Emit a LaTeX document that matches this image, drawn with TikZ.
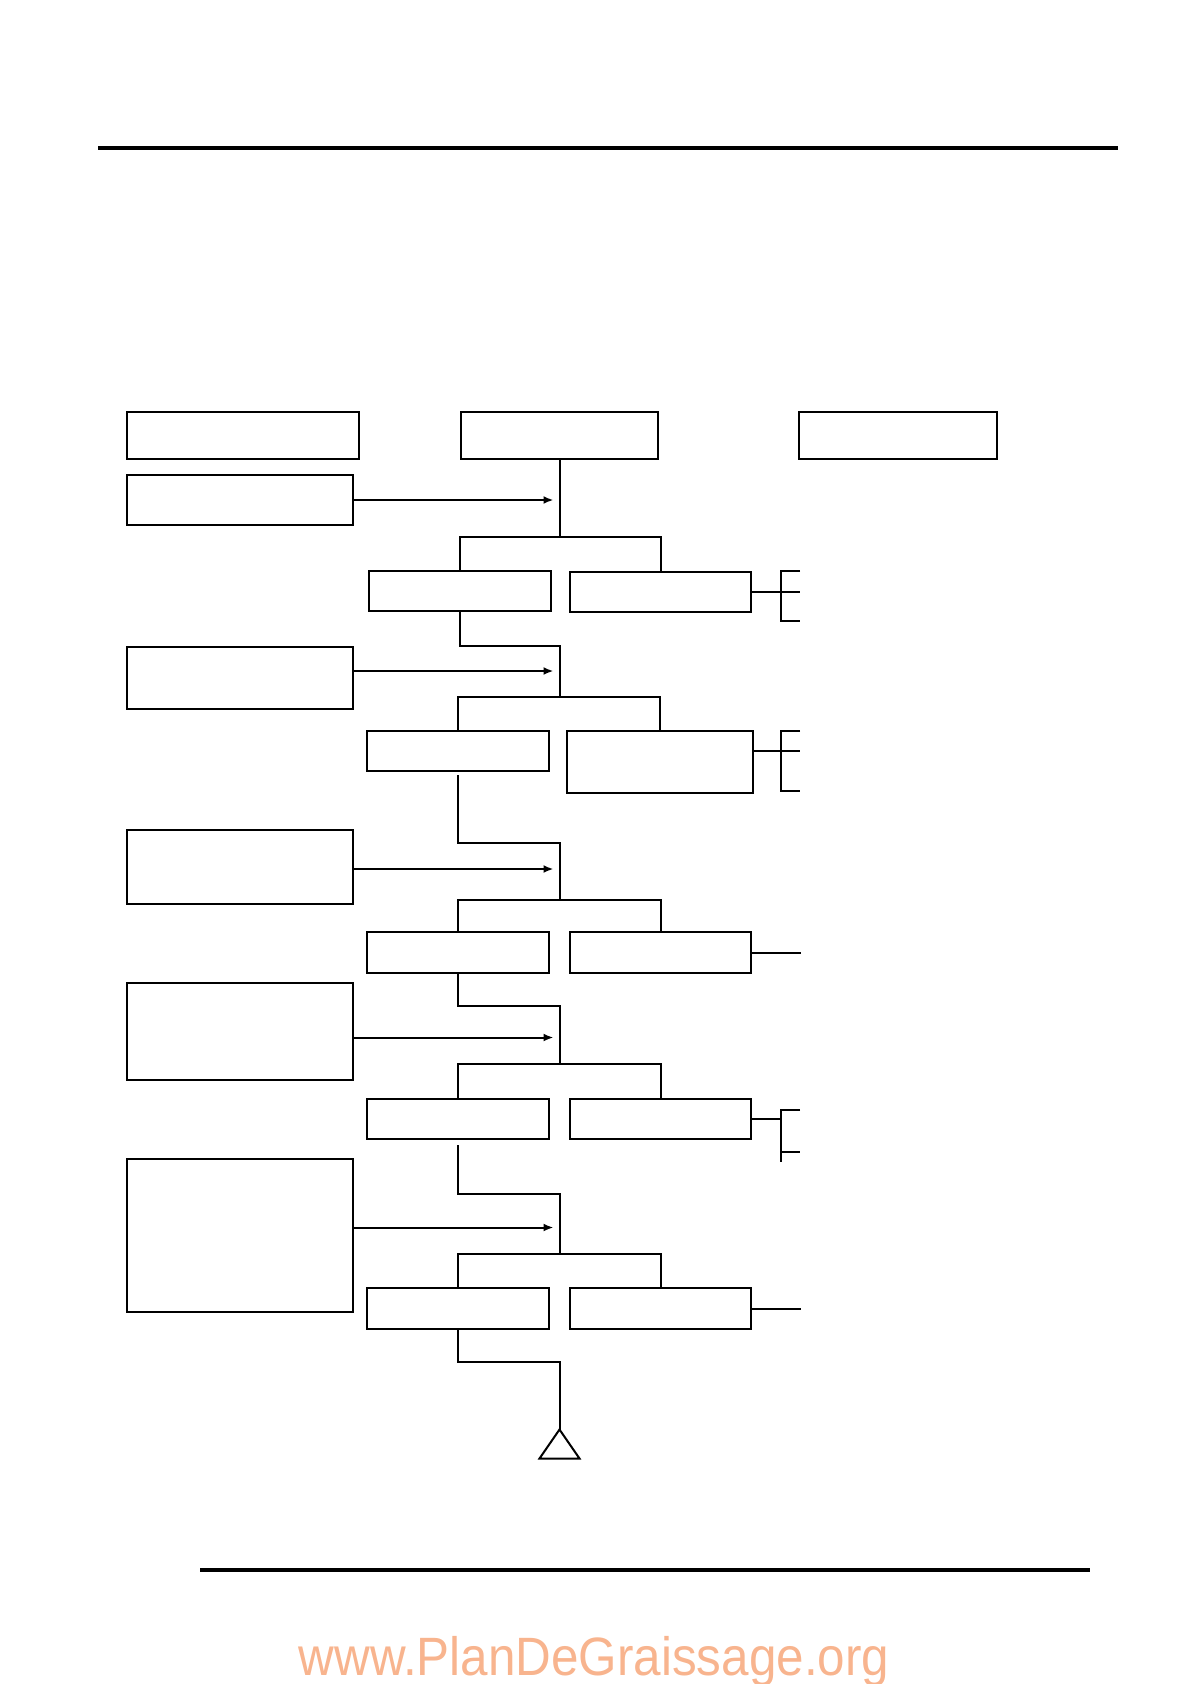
\documentclass[tikz,border=0pt]{standalone}
\usepackage{fontspec}
\newfontfamily\wmfont{Liberation Sans}
\usetikzlibrary{positioning}
\usetikzlibrary{arrows.meta}
\tikzset{>={Latex[length=5pt,width=4pt]}}
\definecolor{wmorange}{RGB}{248,180,142}
\tikzset{
  blk/.style={draw, line width=1pt, inner sep=0pt, outer sep=0pt, minimum height=20pt},
  side/.style={blk, minimum width=113pt},
  mid/.style={blk, minimum width=91pt},
  lnk/.style={line width=1pt},
  rulebar/.style={line width=2.2pt}
}

\begin{document}
\begin{tikzpicture}[x=0.5pt, y=-0.5pt]
\useasboundingbox (0,0) rectangle (1190,1684);
\draw[rulebar] (98,148) -- (1118,148);
\draw[rulebar] (200,1570) -- (1090,1570);
\node[blk, minimum width=116pt, minimum height=23.5pt] (hA) at (243,435.5) {};
\node[blk, minimum width=98.5pt, minimum height=23.5pt] (hB) at (559.5,435.5) {};
\node[blk, minimum width=99pt, minimum height=23.5pt] (hC) at (898,435.5) {};
\node[side, minimum height=25pt] (L1) at (240,500) {};
\node[side, minimum height=31.25pt] (L2) at (240,678) {};
\node[side, minimum height=37pt] (L3) at (240,867) {};
\node[side, minimum height=48.5pt] (L4) at (240,1031.5) {};
\node[side, minimum height=76.5pt] (L5) at (240,1235.5) {};
\node[mid] (D1) at (459.5,591) {};
\node[mid, minimum width=90.5pt] (E1) at (660.5,592) {};
\node[mid] (D2) at (458,751) {};
\node[mid, minimum width=93pt, minimum height=31pt] (E2) at (660,762) {};
\node[mid, minimum height=20.5pt] (D3) at (458,952.5) {};
\node[mid, minimum width=90.5pt, minimum height=20.5pt] (E3) at (660.5,952.5) {};
\node[mid] (D4) at (458,1119) {};
\node[mid, minimum width=90.5pt] (E4) at (660.5,1119) {};
\node[mid, minimum height=20.5pt] (D5) at (458,1308.5) {};
\node[mid, minimum width=90.5pt, minimum height=20.5pt] (E5) at (660.5,1308.5) {};
\coordinate (t1) at (559.5,500);
\coordinate (s1) at (559.5,537);
\coordinate (m2) at (559.5,645.5);
\coordinate (t2) at (559.5,671);
\coordinate (s2) at (559.5,697);
\coordinate (m3) at (559.5,843);
\coordinate (t3) at (559.5,869);
\coordinate (s3) at (559.5,900);
\coordinate (m4) at (559.5,1006);
\coordinate (t4) at (559.5,1037.5);
\coordinate (s4) at (559.5,1064);
\coordinate (m5) at (559.5,1194);
\coordinate (t5) at (559.5,1227.5);
\coordinate (s5) at (559.5,1254);
\coordinate (m6) at (559.5,1362);
\coordinate (fin) at (559.5,1429.5);
\draw[lnk] (hB.south) -- (s1);
\draw[lnk] (D1.north) |- (s1) -| (E1.north);
\draw[lnk] (D1.south) |- (m2) -- (s2);
\draw[lnk] (D2.north) |- (s2) -| (E2.north);
\draw[lnk] ([yshift=-2pt]D2.south) |- (m3) -- (s3);
\draw[lnk] (D3.north) |- (s3) -| (E3.north);
\draw[lnk] (D3.south) |- (m4) -- (s4);
\draw[lnk] (D4.north) |- (s4) -| (E4.north);
\draw[lnk] ([yshift=-3pt]D4.south) |- (m5) -- (s5);
\draw[lnk] (D5.north) |- (s5) -| (E5.north);
\draw[lnk] (D5.south) |- (m6) -- (fin);
\draw[lnk] (fin) -- ++(20,29) -- ++(-40,0) -- cycle;
\draw[lnk,->,shorten >=3pt] (L1.east |- t1) -- (t1);
\draw[lnk,->,shorten >=3pt] (L2.east |- t2) -- (t2);
\draw[lnk,->,shorten >=3pt] (L3.east |- t3) -- (t3);
\draw[lnk,->,shorten >=3pt] (L4.east |- t4) -- (t4);
\draw[lnk,->,shorten >=3pt] (L5.east |- t5) -- (t5);
\coordinate (b1) at (781,592);
\coordinate (b2) at (781,751);
\coordinate (b4) at (781,1119);
\draw[lnk] (E1.east) -- (b1) -- ++(19,0);
\draw[lnk] (800,571) -| (781,621) -- (800,621);
\draw[lnk] (E2.east |- b2) -- (b2) -- ++(19,0);
\draw[lnk] (800,731) -| (781,791) -- (800,791);
\draw[lnk] (E3.east) -- ++(50,0);
\draw[lnk] (E4.east) -- (b4);
\draw[lnk] (800,1110) -| (781,1162);
\draw[lnk] (781,1152) -- (800,1152);
\draw[lnk] (E5.east) -- ++(50,0);
\node[anchor=base, text=wmorange, font=\wmfont\fontsize{27}{27}\selectfont] (wm) at (594,1675) {\scalebox{0.915}[1]{www.PlanDeGraissage.org}};
\end{tikzpicture}
\end{document}
